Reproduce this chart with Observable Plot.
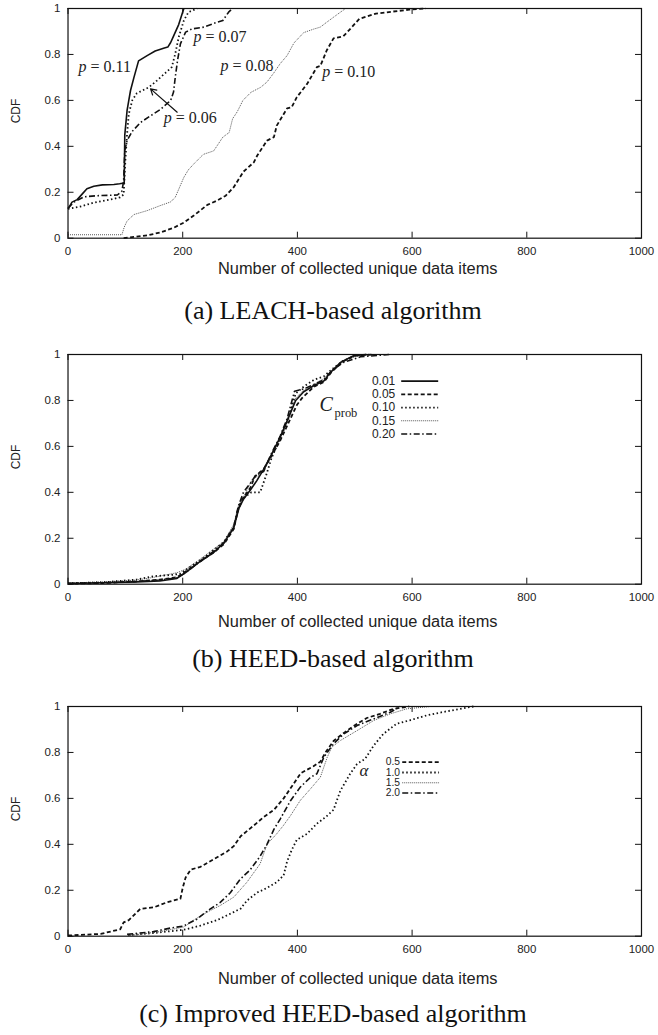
<!DOCTYPE html>
<html>
<head>
<meta charset="utf-8">
<script src="https://cdn.jsdelivr.net/npm/d3@7"></script>
<script src="https://cdn.jsdelivr.net/npm/@observablehq/plot@0.6"></script>
<style>
  html, body { margin: 0; padding: 0; background: #fff; }
  body { width: 658px; height: 1035px; position: relative; overflow: hidden; }
  .panel { position: absolute; left: 0; }
  .cap { position: absolute; left: 4px; width: 658px; text-align: center;
         font-family: "Liberation Serif", "Times New Roman", serif; font-size: 26px;
         line-height: 26px; color: #111; white-space: nowrap; }
</style>
</head>
<body>
<div id="pa" class="panel" style="top:0px"></div>
<div id="pb" class="panel" style="top:345.7px"></div>
<div id="pc" class="panel" style="top:698px"></div>
<div class="cap" style="top:298.2px">(a) LEACH-based algorithm</div>
<div class="cap" style="top:646px">(b) HEED-based algorithm</div>
<div class="cap" style="top:1001px">(c) Improved HEED-based algorithm</div>
<script>
// ---------------- data ----------------
const xTicks = [0, 200, 400, 600, 800, 1000];
const yTicks = [0, 0.2, 0.4, 0.6, 0.8, 1];
const xLabel = "Number of collected unique data items";
const yLabel = "CDF";

// (a) LEACH-based: CDF vs. number of collected unique data items, per p
const leachP011 = [[0,0.128],[7,0.157],[16,0.168],[25,0.193],[33,0.215],[45,0.226],[60,0.232],[80,0.234],[90,0.237],[98,0.24],[99,0.45],[103,0.556],[106,0.6],[109,0.643],[115,0.7],[123,0.772],[138,0.795],[152,0.815],[168,0.828],[174,0.832],[179,0.852],[184,0.88],[193,0.93],[202,1.0]];
const leachP006 = [[0,0.128],[22,0.138],[45,0.155],[74,0.168],[91,0.178],[97,0.19],[100,0.338],[103,0.454],[106,0.541],[112,0.6],[120,0.631],[141,0.657],[155,0.686],[170,0.72],[181,0.745],[187,0.803],[193,0.875],[202,0.948],[210,0.984],[225,1.0]];
const leachP007 = [[0,0.13],[10,0.157],[28,0.18],[51,0.185],[86,0.188],[94,0.205],[97,0.25],[99,0.382],[103,0.425],[112,0.465],[126,0.503],[144,0.533],[161,0.56],[179,0.6],[184,0.636],[187,0.7],[191,0.774],[196,0.846],[205,0.897],[216,0.911],[237,0.919],[254,0.935],[270,0.948],[280,0.984],[287,1.0]];
const leachP008 = [[0,0.015],[94,0.015],[98,0.048],[103,0.075],[115,0.103],[138,0.12],[161,0.142],[179,0.158],[187,0.178],[202,0.265],[210,0.298],[220,0.325],[236,0.365],[254,0.38],[262,0.41],[270,0.44],[281,0.46],[287,0.52],[295,0.55],[305,0.6],[319,0.635],[336,0.657],[347,0.68],[359,0.72],[370,0.76],[382,0.795],[394,0.85],[411,0.895],[428,0.91],[440,0.919],[451,0.94],[463,0.962],[475,0.984],[484,1.0]];
const leachP010 = [[97,0],[138,0.012],[161,0.025],[184,0.045],[202,0.068],[220,0.1],[243,0.145],[260,0.164],[275,0.185],[289,0.222],[306,0.29],[324,0.33],[330,0.36],[347,0.425],[359,0.44],[364,0.49],[382,0.565],[390,0.57],[399,0.614],[417,0.672],[434,0.745],[440,0.75],[451,0.817],[463,0.87],[480,0.879],[491,0.908],[508,0.955],[537,0.978],[595,0.995],[624,1.0]];
const leachLabels = ["p = 0.11", "p = 0.07", "p = 0.08", "p = 0.06", "p = 0.10"];

// (b) HEED-based, per C_prob
const heedC001 = [[0,0.003],[60,0.006],[120,0.01],[160,0.014],[190,0.025],[205,0.05],[231,0.1],[255,0.14],[272,0.18],[289,0.245],[298,0.33],[306,0.37],[318,0.41],[329,0.45],[341,0.5],[353,0.555],[370,0.64],[382,0.71],[397,0.8],[411,0.838],[429,0.865],[446,0.885],[457,0.92],[475,0.965],[498,0.995],[520,1.0]];
const heedC005 = [[0,0.002],[60,0.005],[120,0.012],[160,0.02],[190,0.03],[205,0.055],[231,0.1],[255,0.14],[272,0.175],[289,0.24],[296,0.32],[304,0.37],[318,0.42],[326,0.47],[341,0.5],[353,0.55],[370,0.625],[384,0.7],[399,0.78],[408,0.81],[429,0.86],[446,0.88],[460,0.925],[478,0.968],[500,0.995],[530,1.0]];
const heedC010 = [[0,0.004],[60,0.008],[120,0.02],[150,0.035],[180,0.04],[195,0.045],[210,0.07],[231,0.105],[255,0.15],[272,0.185],[289,0.25],[298,0.34],[308,0.38],[320,0.4],[335,0.4],[345,0.47],[355,0.55],[370,0.635],[384,0.72],[397,0.83],[411,0.86],[429,0.89],[446,0.905],[460,0.935],[478,0.97],[500,0.995],[525,1.0]];
const heedC015 = [[0,0.005],[60,0.01],[120,0.018],[150,0.03],[190,0.05],[205,0.065],[231,0.11],[255,0.155],[272,0.185],[289,0.26],[300,0.35],[310,0.4],[322,0.46],[335,0.475],[345,0.51],[355,0.565],[372,0.65],[386,0.74],[397,0.81],[411,0.845],[429,0.87],[446,0.895],[460,0.93],[480,0.97],[505,0.995],[540,1.0]];
const heedC020 = [[0,0.003],[60,0.006],[120,0.012],[160,0.018],[190,0.028],[205,0.05],[231,0.1],[255,0.145],[272,0.18],[289,0.25],[297,0.34],[306,0.4],[318,0.44],[328,0.475],[341,0.49],[353,0.56],[370,0.645],[382,0.72],[395,0.84],[411,0.85],[429,0.87],[446,0.89],[460,0.93],[480,0.965],[510,0.99],[560,1.0]];
const heedLegend = ["0.01", "0.05", "0.10", "0.15", "0.20"];

// (c) Improved HEED-based, per alpha
const impA05 = [[0,0.003],[57,0.01],[91,0.03],[97,0.06],[106,0.07],[126,0.119],[150,0.126],[173,0.148],[196,0.163],[200,0.21],[205,0.255],[214,0.29],[231,0.302],[254,0.335],[277,0.368],[289,0.392],[301,0.435],[324,0.482],[341,0.518],[359,0.55],[376,0.6],[393,0.662],[406,0.71],[428,0.74],[440,0.76],[449,0.8],[463,0.85],[481,0.885],[498,0.915],[521,0.95],[544,0.968],[568,0.99],[595,1.0]];
const impA10 = [[105,0.005],[146,0.013],[202,0.028],[231,0.046],[260,0.07],[289,0.105],[301,0.12],[312,0.155],[330,0.19],[347,0.21],[364,0.235],[376,0.265],[382,0.325],[390,0.375],[399,0.42],[417,0.446],[434,0.49],[450,0.52],[463,0.55],[475,0.634],[492,0.707],[504,0.75],[518,0.772],[533,0.83],[550,0.881],[573,0.925],[596,0.94],[625,0.961],[654,0.976],[684,0.99],[707,1.0]];
const impA15 = [[105,0.002],[161,0.02],[202,0.04],[219,0.07],[242,0.104],[265,0.133],[289,0.17],[312,0.235],[335,0.315],[347,0.4],[364,0.446],[375,0.48],[388,0.525],[405,0.591],[423,0.642],[440,0.692],[452,0.779],[460,0.823],[475,0.852],[504,0.895],[533,0.939],[562,0.968],[591,0.99],[632,1.0]];
const impA20 = [[103,0.008],[149,0.02],[178,0.035],[201,0.044],[224,0.073],[247,0.117],[265,0.146],[283,0.189],[300,0.247],[318,0.29],[335,0.348],[347,0.4],[359,0.465],[370,0.51],[388,0.59],[405,0.649],[423,0.692],[434,0.707],[446,0.779],[463,0.838],[481,0.881],[504,0.917],[533,0.946],[562,0.975],[579,1.0]];
const impLegend = ["0.5", "1.0", "1.5", "2.0"];

// ---------------- layout & styles ----------------
const W = 658, ML = 67.5, MR = 17, MT = 8, PH = 229.7;
const PW = W - ML - MR;
const SANS = "'Liberation Sans', Arial, Helvetica, sans-serif";
const SERIF = "'Liberation Serif', 'Times New Roman', serif";
const INK = "#111";
const STY = {
  solid:   {stroke: INK, strokeWidth: 1.6},
  dashed:  {stroke: INK, strokeWidth: 1.8, strokeDasharray: "4,2.5"},
  dotted:  {stroke: INK, strokeWidth: 1.8, strokeDasharray: "1.5,2.5"},
  fine:    {stroke: "#555", strokeWidth: 1, strokeDasharray: "1,1"},
  dashdot: {stroke: INK, strokeWidth: 1.6, strokeDasharray: "6,2.5,1.5,2.5"}
};

function lineMark(data, sty) {
  return Plot.line(data, {x: d => d[0], y: d => d[1], strokeLinecap: "butt", strokeLinejoin: "round", ...sty});
}

function legendMarks(labels, styles, textX, lineX1, lineX2, y0, step, fs) {
  const rows = labels.map((t, i) => ({t, y: y0 - i * step, i}));
  const marks = [Plot.text(rows, {x: textX, y: "y", text: "t", textAnchor: "end", fontSize: fs, fontFamily: SANS, fill: "#222"})];
  rows.forEach((r, i) => marks.push(Plot.link([r], {x1: lineX1, x2: lineX2, y1: "y", y2: "y", ...styles[i]})));
  return marks;
}

function panel(target, {MB, labelDy, extra}) {
  const chart = Plot.plot({
    width: W, height: MT + PH + MB,
    marginLeft: ML, marginRight: MR, marginTop: MT, marginBottom: MB,
    x: {domain: [0, 1000]},
    y: {domain: [0, 1]},
    style: {fontFamily: SANS, fontSize: "11.5px", color: "#222", background: "transparent", overflow: "visible"},
    marks: [
      Plot.axisX({ticks: xTicks, tickSize: 0, tickPadding: 8.4, tickFormat: d => String(d), label: null, fontSize: 11.5}),
      Plot.axisY({ticks: yTicks, tickSize: 0, tickPadding: 7.5, tickFormat: d => String(d), label: null, fontSize: 11.5}),
      Plot.tickX(xTicks, {x: d => d, insetTop: PH - 6, stroke: INK}),
      Plot.tickX(xTicks, {x: d => d, insetBottom: PH - 6, stroke: INK}),
      Plot.tickY(yTicks, {y: d => d, insetRight: PW - 6, stroke: INK}),
      Plot.tickY(yTicks, {y: d => d, insetLeft: PW - 6, stroke: INK}),
      Plot.text([yLabel], {text: d => d, frameAnchor: "left", dx: -52, rotate: -90, fontSize: 12, fontFamily: SANS, fill: "#222"}),
      Plot.text([xLabel], {text: d => d, frameAnchor: "bottom", dx: 3, dy: labelDy, fontSize: 16.4, fontFamily: SANS, fill: "#222"}),
      ...extra,
      Plot.frame({stroke: INK, strokeWidth: 1.2})
    ]
  });
  document.getElementById(target).appendChild(chart);
}

// (a)
const aAnno = [
  {x: 18.3, y: 0.7475, t: leachLabels[0]},
  {x: 218.8, y: 0.878, t: leachLabels[1]},
  {x: 265.9, y: 0.752, t: leachLabels[2]},
  {x: 167, y: 0.523, t: leachLabels[3]},
  {x: 443.2, y: 0.726, t: leachLabels[4]}
];
panel("pa", {MB: 52, labelDy: 35.4, extra: [
  lineMark(leachP008, STY.fine),
  lineMark(leachP010, STY.dashed),
  lineMark(leachP007, STY.dashdot),
  lineMark(leachP006, STY.dotted),
  lineMark(leachP011, STY.solid),
  Plot.text(aAnno, {x: "x", y: "y", text: d => d.t.split(" ")[0], textAnchor: "start", fontSize: 16, fontFamily: SERIF, fontStyle: "italic", fill: "#222"}),
  Plot.text(aAnno, {x: "x", y: "y", text: d => d.t.split(" ").slice(1).join(" "), textAnchor: "start", dx: 12, fontSize: 16, fontFamily: SERIF, fill: "#222"}),
  Plot.arrow([{}], {x1: () => 190.4, y1: () => 0.5485, x2: () => 143.9, y2: () => 0.65, stroke: INK, strokeWidth: 1.2, headLength: 8})
]});

// (b)
panel("pb", {MB: 62, labelDy: 43.1, extra: [
  lineMark(heedC015, STY.fine),
  lineMark(heedC010, STY.dotted),
  lineMark(heedC005, STY.dashed),
  lineMark(heedC020, STY.dashdot),
  lineMark(heedC001, STY.solid),
  ...legendMarks(heedLegend, [STY.solid, STY.dashed, STY.dotted, STY.fine, STY.dashdot], 570.6, 581, 645.5, 0.884, 0.0575, 12),
  Plot.text(["C"], {text: d => d, x: () => 438.5, y: () => 0.784, textAnchor: "start", fontSize: 20, fontFamily: SERIF, fontStyle: "italic", fill: "#222"}),
  Plot.text(["prob"], {text: d => d, x: () => 438.5, y: () => 0.784, dx: 15, dy: 9, textAnchor: "start", fontSize: 12.5, fontFamily: SERIF, fill: "#222"})
]});

// (c)
panel("pc", {MB: 62, labelDy: 48.1, extra: [
  lineMark(impA10, STY.dotted),
  lineMark(impA15, STY.fine),
  lineMark(impA20, STY.dashdot),
  lineMark(impA05, STY.dashed),
  ...legendMarks(impLegend, [STY.dashed, STY.dotted, STY.fine, STY.dashdot], 579, 582.8, 647, 0.7575, 0.0448, 10.3),
  Plot.text(["α"], {text: d => d, x: () => 516, y: () => 0.721, textAnchor: "middle", fontSize: 17, fontFamily: SERIF, fontStyle: "italic", fill: "#222"})
]});
</script>
</body>
</html>
